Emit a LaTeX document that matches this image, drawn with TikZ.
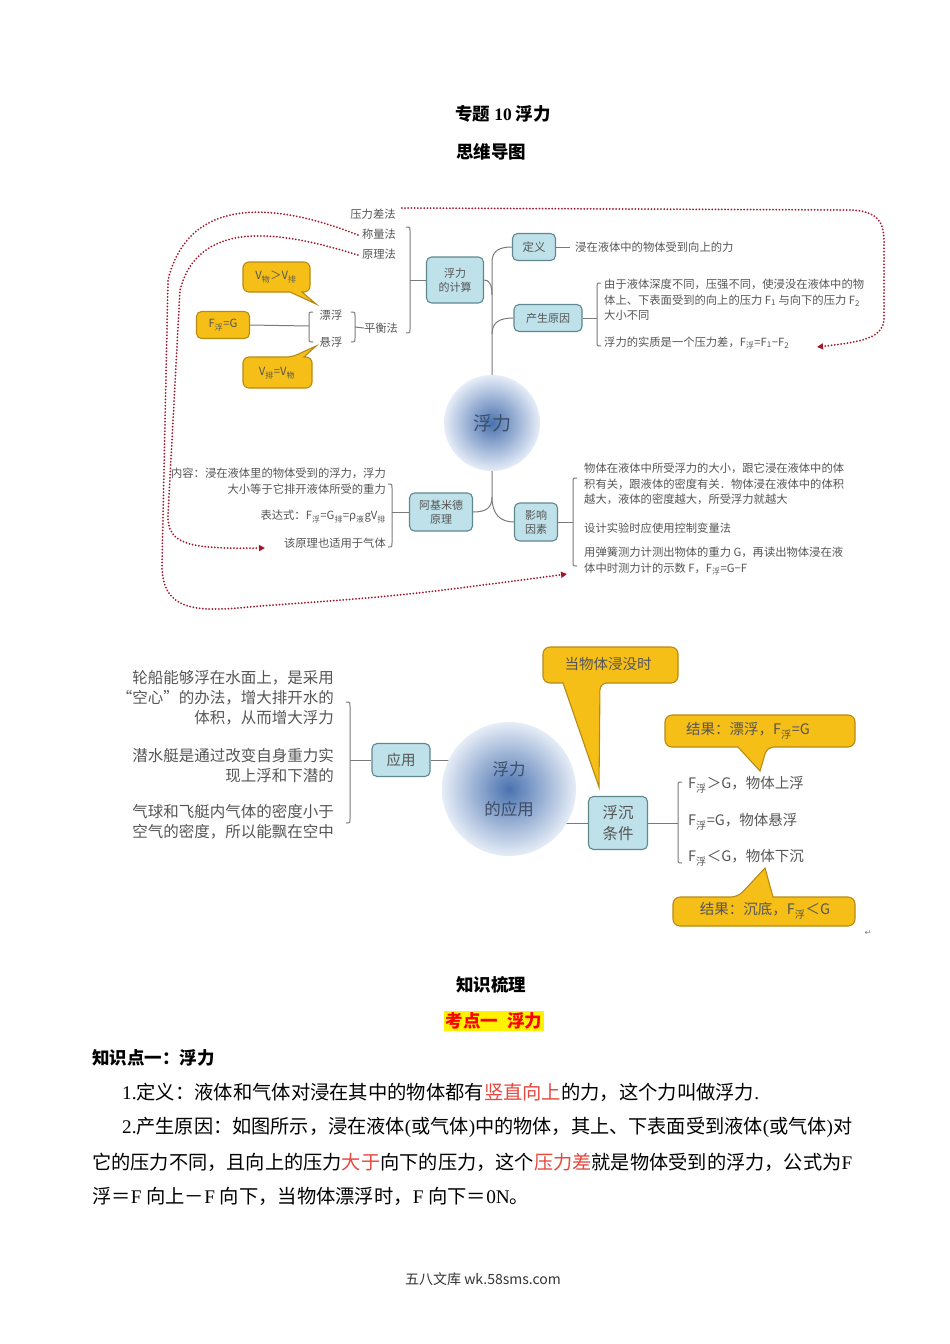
\documentclass[tikz,border=0pt]{standalone}
\usepackage{fontspec}
\usetikzlibrary{arrows.meta,backgrounds,calc}
\setmainfont{Noto Sans CJK SC}
\newfontfamily\serf{Liberation Serif}
\newfontfamily\djv{DejaVu Sans}
\definecolor{boxfill}{HTML}{BFE1EA}
\definecolor{boxline}{HTML}{5F8790}
\definecolor{lineg}{HTML}{7A7A7A}
\definecolor{mtext}{HTML}{555555}
\definecolor{dred}{HTML}{A3162A}
\definecolor{orfill}{HTML}{F6BF17}
\definecolor{orline}{HTML}{B88A14}
\definecolor{cblue}{HTML}{4A72B0}
\definecolor{cpale}{HTML}{E6EDF7}
\definecolor{hred}{HTML}{E5483F}
\definecolor{ctext}{HTML}{3E4E66}
\newcommand\fsA{\fontsize{11.3}{15.3}\selectfont}
\newcommand\fsB{\fontsize{15.5}{20}\selectfont}
\newcommand\fsT{\bfseries\fontsize{17.5}{20}\selectfont}
\newcommand\fsP{\fontsize{19.3}{22}\selectfont}
\newcommand\brR[3]{\draw[brk] (#1-4,#2) .. controls (#1,#2) .. (#1,#2+4) -- (#1,#3-4) .. controls (#1,#3) .. (#1-4,#3);}
\newcommand\brL[3]{\draw[brk] (#1+4,#2) .. controls (#1,#2) .. (#1,#2+4) -- (#1,#3-4) .. controls (#1,#3) .. (#1+4,#3);}
\begin{document}
\begin{tikzpicture}[x=1pt,y=-1pt,
  mbox/.style={draw=boxline, fill=boxfill, line width=1.1pt, rounded corners=5pt, align=center, inner sep=0pt, text=mtext},
  obox/.style={draw=orline, fill=orfill, line width=1.1pt, rounded corners=5pt, align=center, inner sep=0pt, text=mtext},
  conn/.style={draw=lineg, line width=1pt},
  brk/.style={draw=lineg, line width=1pt},
  dots/.style={draw=dred, line width=2pt, line cap=round, dash pattern=on 0pt off 3.2pt},
  tipd/.style={-{Triangle[length=6pt,width=6pt]}},
  mt/.style={text=mtext, inner sep=0pt},
  call/.style={draw=orline, fill=orfill, line width=1.1pt},
  core/.style={circle, inner sep=0pt, inner color=cblue, outer color=cpale, text=ctext, align=center}]
\useasboundingbox (0,0) rectangle (950,1344);

% ---------- titles ----------
\node[font=\fsT] (t1) at (503,114) {专题 {\serf\bfseries 10} 浮力};
\node[font=\fsT] (t2) at (491,152) {思维导图};

% ---------- top mind map ----------
\node[core, minimum size=96pt, font=\fontsize{19}{22}\selectfont] (core1) at (492,423) {浮力};
\node[mbox, minimum width=57pt, minimum height=46pt, font=\fontsize{11}{14}\selectfont] (calc) at (455,280) {浮力\\的计算};
\node[mbox, minimum width=43pt, minimum height=27pt, font=\fontsize{11.5}{14}\selectfont] (defn) at (534,247) {定义};
\node[mbox, minimum width=68pt, minimum height=27pt, font=\fontsize{11}{14}\selectfont] (cause) at (548,318) {产生原因};
\node[mbox, minimum width=63pt, minimum height=38pt, font=\fontsize{11}{14}\selectfont] (arch) at (441,512) {阿基米德\\原理};
\node[mbox, minimum width=43pt, minimum height=38pt, font=\fontsize{11}{14}\selectfont] (infl) at (536,522) {影响\\因素};

\node[mt, font=\fsA] (m1) at (373,214) {压力差法};
\node[mt, font=\fsA] (m2) at (379,234) {称量法};
\node[mt, font=\fsA] (m3) at (379,254) {原理法};
\node[mt, font=\fsA] (m4) at (381,328) {平衡法};
\node[mt, font=\fsA] (m5) at (331,315) {漂浮};
\node[mt, font=\fsA] (m6) at (331,342) {悬浮};
\node[obox, minimum width=53pt, minimum height=27pt, font=\fsA] (fg) at (223,325) {F\textsubscript{浮}=G};

% callouts top-left
\path[call] [rounded corners=6pt] (243,262) -- (310,262) -- (310,292) [sharp corners] -- (302,292) -- (316,304) -- (290,292) [rounded corners=6pt] -- (243,292) -- cycle;
\node[mt, font=\fsA] (va) at (276,277) {V\textsubscript{物}＞V\textsubscript{排}};
\path[call] [rounded corners=6pt] (243,388) -- (243,357) -- (292,357) [sharp corners] -- (316,346) -- (304,357) [rounded corners=6pt] -- (312,357) -- (312,388) -- cycle;
\node[mt, font=\fsA] (vb) at (277,373) {V\textsubscript{排}=V\textsubscript{物}};

\node[mt, font=\fsA, anchor=west] (d1) at (575,247) {浸在液体中的物体受到向上的力};
\node[mt, font=\fsA, anchor=north west, align=left] (c1) at (604,279) {由于液体深度不同，压强不同，使浸没在液体中的物\\体上、下表面受到的向上的压力 F\textsubscript{1} 与向下的压力 F\textsubscript{2}\\大小不同};
\node[mt, font=\fsA, anchor=west] (c2) at (604,343) {浮力的实质是一个压力差，F\textsubscript{浮}=F\textsubscript{1}−F\textsubscript{2}};

\node[mt, font=\fsA, anchor=north east, align=right] (a1) at (386,468) {内容：浸在液体里的物体受到的浮力，浮力\\大小等于它排开液体所受的重力};
\node[mt, font=\fsA, anchor=east] (a2) at (386,517) {表达式：F\textsubscript{浮}=G\textsubscript{排}=ρ\textsubscript{液}gV\textsubscript{排}};
\node[mt, font=\fsA, anchor=east] (a3) at (386,543) {该原理也适用于气体};

\node[mt, font=\fsA, anchor=north west, align=left] (i1) at (584,463) {物体在液体中所受浮力的大小，跟它浸在液体中的体\\积有关，跟液体的密度有关．物体浸在液体中的体积\\越大，液体的密度越大，所受浮力就越大};
\node[mt, font=\fsA, anchor=west] (i2) at (584,528) {设计实验时应使用控制变量法};
\node[mt, font=\fsA, anchor=north west, align=left] (i3) at (584,547) {用弹簧测力计测出物体的重力 G，再读出物体浸在液\\体中时测力计的示数 F，F\textsubscript{浮}=G−F};

% brackets top
\brR{410}{227}{333}
\brR{355}{312}{342}
\brL{309}{312}{342}
\brL{597}{283}{346}
\brR{392}{484}{547}
\brL{573}{478}{566}
\coordinate (k1) at (410,280);
\coordinate (k2) at (355,327);
\coordinate (k3) at (309,326);
\coordinate (k4) at (597,318);
\coordinate (k5) at (392,512);
\coordinate (k6) at (573,522);
\coordinate (k7) at (570,247);

\begin{pgfonlayer}{background}
\draw[conn] (core1.center) -- (492,262) .. controls (492,251) and (499,247) .. (defn.west);
\draw[conn] (492,334) .. controls (492,322) and (500,318) .. (cause.west);
\draw[conn] (calc.east) .. controls (489,280) and (492,284) .. (492,295);
\draw[conn] (core1.center) -- (492,497) .. controls (492,508) and (486,512) .. (arch.east);
\draw[conn] (492,497) .. controls (492,514) and (500,522) .. (infl.west);
\end{pgfonlayer}
\draw[conn] (calc.west) -- (k1);
\draw[conn] (m4.west) -- (k2);
\draw[conn] (fg.east) -- (k3);
\draw[conn] (cause.east) -- (k4);
\draw[conn] (arch.west) -- (k5);
\draw[conn] (infl.east) -- (k6);
\draw[conn] (defn.east) -- (k7);

% dotted red arrows
\coordinate (e1) at (817,347);
\coordinate (e2) at (567,574);
\coordinate (e3) at (265,548);
\draw[dots, tipd] (m1.east) ++(6,-6) -- (850,210) .. controls (878,211) and (884,222) .. (884,242) -- (884,318) .. controls (884,338) and (862,342) .. (e1);
\draw[dots, tipd] (m2.west) ++(-4,1) .. controls (285,206) and (190,190) .. (168,280) -- (162,565) .. controls (162,614) and (200,612) .. (260,606) .. controls (400,596) .. (e2);
\draw[dots, tipd] (m3.west) ++(-4,1) .. controls (290,234) and (200,214) .. (180,290) -- (168,515) .. controls (167,545) and (190,549) .. (e3);

% ---------- bottom mind map ----------
\node[core, minimum size=134pt, font=\fontsize{16.5}{40}\selectfont] (core2) at (509,789) {浮力\\的应用};
\node[mbox, minimum width=58pt, minimum height=33pt, font=\fontsize{14.5}{17}\selectfont] (app) at (401,760) {应用};
\node[mbox, minimum width=59pt, minimum height=53pt, font=\fontsize{15.5}{21}\selectfont] (fc) at (618,823) {浮沉\\条件};

\node[mt, font=\fsB, anchor=north east, align=right] (b1) at (334,670) {轮船能够浮在水面上，是采用\\“空心”的办法，增大排开水的\\体积，从而增大浮力};
\node[mt, font=\fsB, anchor=north east, align=right] (b2) at (334,748) {潜水艇是通过改变自身重力实\\现上浮和下潜的};
\node[mt, font=\fsB, anchor=north east, align=right] (b3) at (334,804) {气球和飞艇内气体的密度小于\\空气的密度，所以能飘在空中};

\node[mt, font=\fontsize{14.5}{17}\selectfont, anchor=west] (f1) at (688,785) {F\textsubscript{浮}＞G，物体上浮};
\node[mt, font=\fontsize{14.5}{17}\selectfont, anchor=west] (f2) at (688,822) {F\textsubscript{浮}=G，物体悬浮};
\node[mt, font=\fontsize{14.5}{17}\selectfont, anchor=west] (f3) at (688,858) {F\textsubscript{浮}＜G，物体下沉};

\brR{350}{702}{823}
\brL{678}{782}{863}
\coordinate (k8) at (350,760);
\coordinate (k9) at (678,823);
\begin{pgfonlayer}{background}
\draw[conn] (app.east) -- (app.east -| core2.center);
\draw[conn] (fc.west) -- (fc.west -| core2.center);
\end{pgfonlayer}
\draw[conn] (app.west) -- (k8);
\draw[conn] (fc.east) -- (k9);

% callouts bottom
\path[call] [rounded corners=7pt] (543,683) -- (543,647) -- (678,647) -- (678,683) -- (600,683) [sharp corners] -- (599,787) -- (563,683) [rounded corners=7pt] -- cycle;
\node[mt, font=\fontsize{14.5}{17}\selectfont] (q1) at (608,664) {当物体浸没时};
\path[call] [rounded corners=7pt] (665,747) -- (665,715) -- (855,715) -- (855,747) -- (767,747) [sharp corners] -- (760,771) -- (738,747) [rounded corners=7pt] -- cycle;
\node[mt, font=\fontsize{14.5}{17}\selectfont] (q2) at (748,731) {结果：漂浮，F\textsubscript{浮}=G};
\path[call] [rounded corners=7pt] (673,926) -- (673,897) -- (738,897) [sharp corners] -- (765,868) -- (773,897) [rounded corners=7pt] -- (855,897) -- (855,926) -- cycle;
\node[mt, font=\fontsize{14.5}{17}\selectfont] (q3) at (765,911) {结果：沉底，F\textsubscript{浮}＜G};
\node[text=gray, inner sep=0pt, font=\djv\fontsize{8}{8}\selectfont] (rt) at (868,933) {↵};

% ---------- knowledge text ----------
\node[font=\fsT] (t3) at (491,985) {知识梳理};
\node[font=\fsT, fill=yellow, text=red, inner xsep=2pt, inner ysep=2pt] (t4) at (494,1021) {考点一\hspace{0.5em}浮力};
\node[font=\fsT, anchor=west, inner sep=0pt] (t5) at (92,1058) {知识点一：浮力};
\node[font=\fsP, anchor=west, inner sep=0pt] (p1) at (122,1092) {{\serf 1.}定义：液体和气体对浸在其中的物体都有\textcolor{hred}{竖直向上}的力，这个力叫做浮力{\serf .}};
\node[font=\fsP, anchor=west, inner sep=0pt] (p2) at (122,1127) {\resizebox{730pt}{\height}{{\serf 2.}产生原因：如图所示，浸在液体{\serf (}或气体{\serf )}中的物体，其上、下表面受到液体{\serf (}或气体{\serf )}对}};
\node[font=\fsP, anchor=west, inner sep=0pt] (p3) at (92,1162) {\resizebox{760pt}{\height}{它的压力不同，且向上的压力\textcolor{hred}{大于}向下的压力，这个\textcolor{hred}{压力差}就是物体受到的浮力，公式为{\serf F}}};
\node[font=\fsP, anchor=west, inner sep=0pt] (p4) at (92,1196) {浮＝{\serf F }向上－{\serf F }向下，当物体漂浮时，{\serf F }向下＝{\serf 0N}。};

\node[font=\fontsize{14}{16}\selectfont, text=black!80] (t6) at (483,1279) {五八文库 wk.58sms.com};
\end{tikzpicture}
\end{document}
